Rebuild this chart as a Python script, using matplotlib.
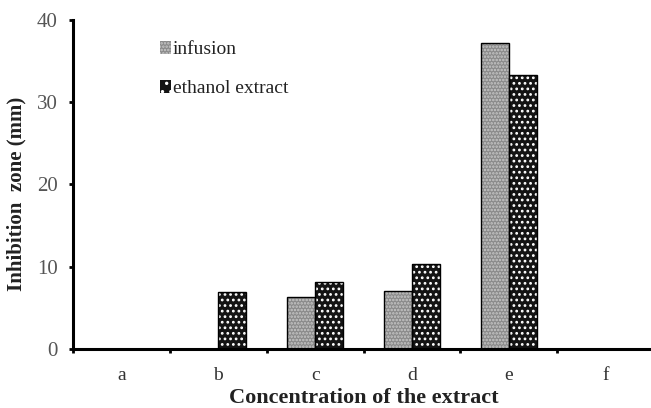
import matplotlib
matplotlib.use("Agg")
import matplotlib.pyplot as plt
import numpy as np
from matplotlib.patches import Patch

categories = ["a", "b", "c", "d", "e", "f"]
infusion = [0, 0, 6.3, 7.0, 37.2, 0]
ethanol = [0, 6.9, 8.1, 10.3, 33.3, 0]
yticks = [0, 10, 20, 30, 40]

plt.rcParams['font.family'] = ['Liberation Serif', 'DejaVu Serif']
plt.rcParams['hatch.linewidth'] = 1.2

fig = plt.figure(figsize=(6.51, 4.08), dpi=100)
ax = fig.add_axes([0.112, 0.145, 0.893, 0.806])

x = np.arange(len(categories))
w = 0.29

def draw(xpos, vals, face, hatch, hcol):
    for xi, v in zip(xpos, vals):
        if v <= 0:
            continue
        ax.bar(xi, v, w, color=face, edgecolor=hcol, hatch=hatch, linewidth=0, zorder=2)
        ax.bar(xi, v, w, facecolor='none', edgecolor='black', linewidth=1.0, zorder=3)

draw(x - w/2, infusion, '#8a8a8a', '.....', '#c8c8c8')
draw(x + w/2, ethanol, '#141414', '...', '#ffffff')

ax.set_xlim(-0.5, 5.47)
ax.set_ylim(0, 40)
ax.set_yticks(yticks)
ax.set_yticklabels([str(t) for t in yticks])
ax.set_xticks(x)
ax.set_xticklabels(categories)
ax.set_xticks(np.arange(-0.5, 5.6, 1.0), minor=True)
ax.tick_params(axis='x', which='major', length=0, pad=13, labelsize=14, labelcolor='#333333')
ax.tick_params(axis='x', which='minor', length=3, width=2, direction='out')
ax.tick_params(axis='y', length=3, width=2, direction='out', labelsize=15, labelcolor='#555555', pad=8)

for s in ['top', 'right']:
    ax.spines[s].set_visible(False)
for s in ['left', 'bottom']:
    ax.spines[s].set_linewidth(2.2)

ax.set_ylabel("Inhibition  zone (mm)", fontsize=15, fontweight='bold', color='#222222')
ax.yaxis.set_label_coords(-0.08, 0.47)
ax.set_xlabel("Concentration of the extract", fontsize=16, fontweight='bold', color='#222222', labelpad=3)

handles = [Patch(facecolor='#8a8a8a', edgecolor='#c8c8c8', hatch='.....', linewidth=0),
           Patch(facecolor='#141414', edgecolor='#ffffff', hatch='..', linewidth=0)]
leg = ax.legend(handles, ["infusion", "ethanol extract"], loc='upper left',
                bbox_to_anchor=(0.12, 0.99), frameon=False, fontsize=14,
                handlelength=0.55, handleheight=0.7, handletextpad=0.1, labelspacing=1.1)
for t in leg.get_texts():
    t.set_color('#222222')

fig.savefig("out.png", dpi=100)
